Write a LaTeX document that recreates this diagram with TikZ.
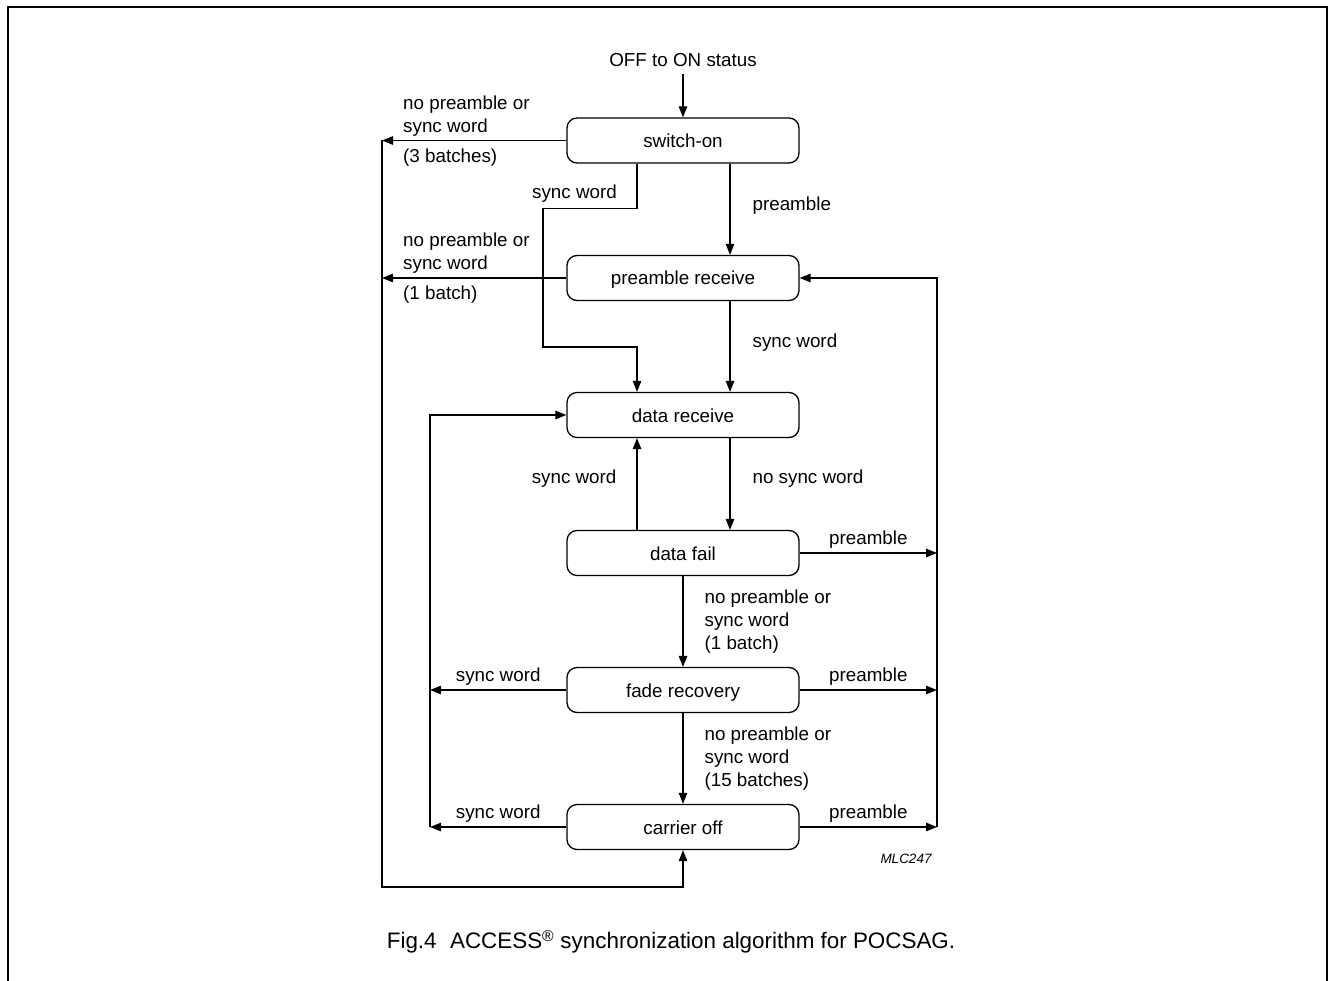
\documentclass[tikz,border=0pt]{standalone}
\usepackage{fontspec}
\setmainfont{Liberation Sans}
\usetikzlibrary{arrows.meta,positioning}

\begin{document}
\begin{tikzpicture}[x=1pt,y=-1pt,font=\fontsize{18.8}{23}\selectfont,
  state/.style={rounded corners=10pt,draw,line width=1.3pt,minimum width=232pt,minimum height=45pt,inner sep=0pt,text height=17pt,text depth=3pt},
  arr/.style={-{Triangle[length=11pt,width=8.5pt]},line width=1.2pt},
  lbl/.style={align=left,inner sep=0pt}]
\useasboundingbox (0,0) rectangle (1329,981);
% frame
\draw[line width=2pt] (7.5,981) -- (7.5,7.5) -- (1327,7.5) -- (1327,981);
% states
\node[inner sep=0pt] (start) at (683,60) {OFF to ON status};
\node[state] (sw) at (683,140.5) {switch-on};
\node[state] (pr) at (683,278) {preamble receive};
\node[state] (dr) at (683,415) {data receive};
\node[state] (df) at (683,553) {data fail};
\node[state] (fr) at (683,690) {fade recovery};
\node[state] (co) at (683,827) {carrier off};
% buses
\coordinate (lb) at (382,887);
\coordinate (mb) at (430,415);
\coordinate (rb) at (937,278);
% transitions
\draw[arr] ([yshift=-7pt]start.south) -- (sw.north);
\draw[arr] (sw.west) -- (sw.west -| lb);
\node[lbl,anchor=north west] at (403,96) {no preamble or\\sync word};
\node[lbl,anchor=north west] at (403,149) {(3 batches)};
\draw[arr] (sw.west -| lb) -- (lb) -| (co.south);
\draw[arr] ([xshift=-46pt]sw.south) -- ++(0,45) -| (543,347) -| ([xshift=-46pt]dr.north);
\node[lbl,anchor=east] at (617,194) {sync word};
\draw[arr] ([xshift=47pt]sw.south) -- ([xshift=47pt]pr.north)
  node[lbl,midway,right=22pt,yshift=4pt] {preamble};
\draw[arr] (pr.west) -- (pr.west -| lb);
\node[lbl,anchor=north west] at (403,233) {no preamble or\\sync word};
\node[lbl,anchor=north west] at (403,286) {(1 batch)};
\draw[arr] ([xshift=47pt]pr.south) -- ([xshift=47pt]dr.north)
  node[lbl,midway,right=22pt,yshift=4pt] {sync word};
\draw[arr] (co.east -| rb) -- (rb) -- (pr.east);
\draw[arr] (co.west -| mb) -- (mb) -- (dr.west);
\draw[arr] ([xshift=47pt]dr.south) -- ([xshift=47pt]df.north)
  node[lbl,midway,right=22pt,yshift=5pt] {no sync word};
\draw[arr] ([xshift=-46pt]df.north) -- ([xshift=-46pt]dr.south)
  node[lbl,midway,left=20pt,yshift=5pt] {sync word};
\draw[arr] (df.east) -- (df.east -| rb) node[midway,above=1pt] {preamble};
\draw[arr] (df.south) -- (fr.north)
  node[lbl,midway,right=21pt] {no preamble or\\sync word\\(1 batch)};
\draw[arr] (fr.west) -- (fr.west -| mb) node[midway,above=1pt] {sync word};
\draw[arr] (fr.east) -- (fr.east -| rb) node[midway,above=1pt] {preamble};
\draw[arr] (fr.south) -- (co.north)
  node[lbl,midway,right=21pt] {no preamble or\\sync word\\(15 batches)};
\draw[arr] (co.west) -- (co.west -| mb) node[midway,above=1pt] {sync word};
\draw[arr] (co.east) -- (co.east -| rb) node[midway,above=1pt] {preamble};
% labels
\node[lbl,font=\fontsize{13.5}{15}\selectfont\itshape] (tag) at (906,859) {MLC247};
\node[lbl,font=\fontsize{22.4}{26}\selectfont] (cap) at (671,942)
  {Fig.4\hspace{0.6em}ACCESS\textsuperscript{®} synchronization algorithm for POCSAG.};
\end{tikzpicture}
\end{document}
